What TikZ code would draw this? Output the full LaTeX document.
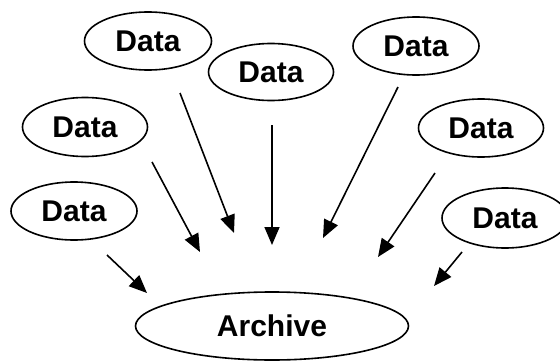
\documentclass[tikz,border=0pt]{standalone}
\usepackage{fontspec}
\setmainfont{Liberation Sans}
\usetikzlibrary{shapes.geometric,arrows.meta}
\begin{document}
\begin{tikzpicture}[x=1pt,y=-1pt,
  blob/.style={ellipse,draw,line width=1.6pt,inner sep=0pt,
    font=\fontsize{30}{36}\selectfont\bfseries},
  feed/.style={line width=1.6pt,-{Triangle[length=18pt,width=15pt]}}]
\useasboundingbox (0,0) rectangle (560,362);

% data sources
\node[blob,minimum width=127pt,minimum height=58pt] (d1) at (148,41) {Data};
\node[blob,minimum width=125pt,minimum height=57pt] (d2) at (271,72) {Data};
\node[blob,minimum width=126pt,minimum height=58pt] (d3) at (416,46) {Data};
\node[blob,minimum width=125pt,minimum height=59pt] (d4) at (85,127) {Data};
\node[blob,minimum width=125pt,minimum height=58pt] (d5) at (481,128) {Data};
\node[blob,minimum width=126pt,minimum height=58pt] (d6) at (74,211) {Data};
\node[blob,minimum width=126pt,minimum height=60pt] (d7) at (505,218) {Data};

% archive
\node[blob,minimum width=273pt,minimum height=68pt] (arch) at (272,326) {Archive};

% arrow ends
\coordinate (s1) at (180,93);  \coordinate (e1) at (234,233);
\coordinate (s2) at (272,125); \coordinate (e2) at (272,245);
\coordinate (s3) at (398,87);  \coordinate (e3) at (323,238);
\coordinate (s4) at (152,162); \coordinate (e4) at (200,252);
\coordinate (s5) at (435,173); \coordinate (e5) at (378,257);
\coordinate (s6) at (107,255); \coordinate (e6) at (147,293);
\coordinate (s7) at (462,252); \coordinate (e7) at (434,286);

\foreach \i in {1,...,7}{\draw[feed] (s\i) -- (e\i);}
\end{tikzpicture}
\end{document}
